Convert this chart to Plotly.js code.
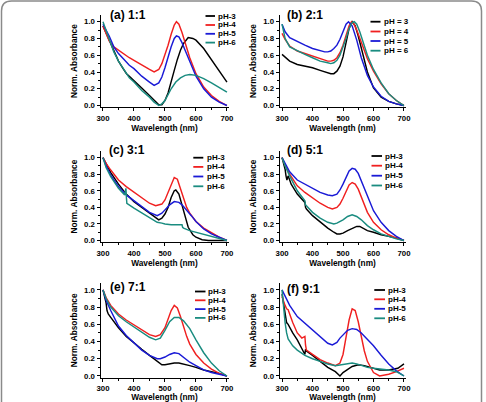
<!DOCTYPE html>
<html>
<head>
<meta charset="utf-8">
<script src="https://cdn.plot.ly/plotly-3.0.1.min.js"></script>
<style>html,body{margin:0;padding:0;background:#fff;}#plot{width:486px;height:402px;}</style>
</head>
<body>
<div id="plot"></div>
<script>
// ---------- DATA (wavelength in nm, normalized absorbance) ----------
// (a) 1:1
const aW3 = [300,310,320,335,350,365,372,376,385,400,425,450,470,480,490,500,510,520,530,540,550,560,575,590,600,625,650,675,700];
const aA3 = [0.95,0.87,0.78,0.65,0.53,0.44,0.40,0.38,0.35,0.30,0.21,0.12,0.04,0.01,0.01,0.06,0.15,0.27,0.42,0.55,0.66,0.74,0.81,0.80,0.78,0.68,0.55,0.41,0.28];
const aW4 = [300,310,320,335,350,365,375,385,400,425,450,465,480,490,500,510,520,530,537,545,555,565,580,600,625,650,675,700];
const aA4 = [0.95,0.86,0.77,0.70,0.66,0.63,0.60,0.57,0.54,0.48,0.43,0.40,0.43,0.50,0.60,0.72,0.85,0.96,1.0,0.97,0.87,0.74,0.57,0.38,0.22,0.12,0.05,0.0];
const aW5 = [300,310,320,335,350,365,372,376,385,400,425,450,465,480,490,500,510,520,530,537,545,555,565,580,600,625,650,675,700];
const aA5 = [0.97,0.90,0.83,0.70,0.62,0.56,0.53,0.51,0.48,0.44,0.35,0.28,0.24,0.27,0.34,0.45,0.58,0.70,0.80,0.83,0.82,0.75,0.66,0.52,0.35,0.20,0.10,0.04,0.0];
const aW6 = [300,310,320,335,350,365,375,385,400,425,450,465,480,490,500,510,520,535,550,565,580,600,625,650,675,700];
const aA6 = [1.0,0.89,0.78,0.64,0.53,0.44,0.38,0.33,0.28,0.18,0.10,0.04,0.0,0.02,0.06,0.13,0.20,0.28,0.33,0.36,0.37,0.36,0.32,0.27,0.22,0.16];
// (b) 2:1
const bW3 = [300,310,325,350,375,400,425,450,460,470,480,490,500,510,520,530,540,550,560,570,580,600,625,650,675,700];
const bA3 = [0.61,0.58,0.53,0.49,0.47,0.45,0.42,0.39,0.38,0.38,0.41,0.47,0.58,0.75,0.92,1.0,0.95,0.83,0.68,0.53,0.40,0.21,0.10,0.05,0.02,0.0];
const bW4 = [300,310,325,350,375,400,425,450,460,470,480,490,500,510,520,528,535,545,555,565,580,600,625,650,675,700];
const bA4 = [0.86,0.79,0.71,0.65,0.62,0.59,0.56,0.53,0.53,0.54,0.57,0.63,0.72,0.84,0.95,1.0,0.98,0.90,0.80,0.69,0.56,0.41,0.26,0.14,0.06,0.0];
const bW5 = [300,310,325,350,375,400,425,440,450,460,470,480,490,500,510,518,530,545,560,580,600,625,650,675,700];
const bA5 = [0.97,0.88,0.81,0.76,0.72,0.68,0.65,0.64,0.64,0.65,0.68,0.72,0.79,0.88,0.97,1.0,0.95,0.78,0.57,0.36,0.22,0.11,0.05,0.02,0.0];
const bW6 = [300,310,325,350,375,400,425,450,460,470,480,490,500,510,520,530,537,545,555,565,580,600,625,650,675,700];
const bA6 = [0.97,0.80,0.70,0.65,0.61,0.57,0.53,0.51,0.50,0.51,0.54,0.60,0.69,0.80,0.92,0.99,1.0,0.97,0.88,0.76,0.60,0.43,0.27,0.14,0.06,0.0];
// (c) 3:1
const cW3 = [300,310,325,350,375,400,425,450,470,480,490,500,510,520,530,535,545,555,565,575,590,600,620,640,670,700];
const cA3 = [1.0,0.93,0.82,0.68,0.56,0.47,0.40,0.33,0.27,0.25,0.27,0.32,0.40,0.52,0.60,0.61,0.56,0.43,0.28,0.16,0.07,0.04,0.01,0.0,0.0,0.0];
const cW4 = [300,310,325,350,375,400,425,450,470,490,500,510,520,530,540,550,560,570,580,600,625,650,675,700];
const cA4 = [1.0,0.93,0.85,0.73,0.65,0.58,0.51,0.45,0.42,0.44,0.49,0.58,0.69,0.76,0.74,0.63,0.50,0.40,0.33,0.23,0.15,0.09,0.04,0.0];
const cW5 = [300,310,325,350,375,400,425,450,475,490,500,515,530,545,555,570,585,600,625,650,675,700];
const cA5 = [1.0,0.90,0.79,0.65,0.55,0.48,0.40,0.34,0.30,0.33,0.37,0.43,0.47,0.46,0.43,0.37,0.30,0.23,0.14,0.08,0.04,0.0];
const cW6 = [300,310,325,350,370,374,376,377,400,425,450,475,490,500,520,540,555,557,560,580,600,625,650,675,700];
const cA6 = [1.0,0.88,0.77,0.63,0.55,0.63,0.50,0.45,0.39,0.33,0.27,0.22,0.21,0.20,0.19,0.19,0.19,0.16,0.15,0.12,0.10,0.07,0.05,0.02,0.0];
// (d) 5:1
const dW3 = [300,305,310,313,316,320,330,350,375,377,380,400,425,450,470,480,490,500,515,530,545,555,565,580,600,625,650,675,700];
const dA3 = [1.0,0.93,0.86,0.78,0.73,0.78,0.68,0.56,0.46,0.40,0.38,0.30,0.22,0.15,0.10,0.08,0.08,0.09,0.12,0.15,0.17,0.17,0.15,0.12,0.10,0.07,0.05,0.03,0.0];
const dW4 = [300,310,325,350,375,400,425,450,465,480,490,500,510,520,530,540,550,560,570,580,600,625,650,675,700];
const dA4 = [1.0,0.91,0.80,0.66,0.58,0.51,0.45,0.40,0.38,0.40,0.44,0.51,0.60,0.67,0.70,0.68,0.62,0.52,0.42,0.34,0.22,0.13,0.07,0.03,0.0];
const dW5 = [300,310,325,350,375,400,425,450,465,480,490,500,510,520,530,540,550,560,570,580,600,625,650,675,700];
const dA5 = [1.0,0.93,0.83,0.73,0.68,0.63,0.58,0.55,0.54,0.56,0.61,0.68,0.77,0.84,0.87,0.86,0.81,0.72,0.62,0.52,0.36,0.22,0.12,0.05,0.0];
const dW6 = [300,310,325,350,375,377,380,400,425,450,470,480,500,515,530,545,560,580,600,625,650,675,700];
const dA6 = [1.0,0.90,0.78,0.60,0.48,0.43,0.42,0.34,0.27,0.22,0.20,0.21,0.25,0.29,0.31,0.29,0.25,0.18,0.13,0.08,0.05,0.02,0.0];
// (e) 7:1
const eW3 = [300,305,310,313,317,325,350,375,400,425,450,475,490,500,515,530,545,560,580,600,625,650,675,700];
const eA3 = [1.0,0.93,0.85,0.76,0.72,0.68,0.56,0.46,0.38,0.31,0.24,0.17,0.13,0.13,0.14,0.15,0.15,0.14,0.12,0.10,0.07,0.05,0.03,0.0];
const eW4 = [300,310,325,350,375,400,425,450,470,485,500,510,520,530,540,550,560,570,580,600,625,650,675,700];
const eA4 = [1.0,0.91,0.82,0.72,0.65,0.59,0.53,0.48,0.46,0.48,0.56,0.65,0.76,0.82,0.79,0.69,0.57,0.46,0.37,0.25,0.15,0.08,0.03,0.0];
const eW5 = [300,310,325,350,375,400,425,450,475,485,500,515,530,545,560,580,600,625,650,675,700];
const eA5 = [1.0,0.88,0.76,0.58,0.47,0.38,0.30,0.24,0.20,0.20,0.22,0.25,0.27,0.26,0.22,0.16,0.12,0.07,0.04,0.02,0.0];
const eW6 = [300,310,325,350,375,400,425,450,470,485,500,515,530,545,560,580,600,625,650,675,700];
const eA6 = [1.0,0.90,0.80,0.70,0.63,0.57,0.51,0.45,0.42,0.44,0.53,0.63,0.68,0.68,0.64,0.55,0.42,0.27,0.15,0.06,0.0];
// (f) 9:1
const fW3 = [300,305,310,315,320,335,350,375,377,380,400,425,450,475,490,500,515,530,550,570,590,620,650,680,700];
const fA3 = [0.95,0.84,0.73,0.62,0.60,0.50,0.42,0.25,0.31,0.29,0.24,0.17,0.10,0.05,0.0,0.04,0.08,0.11,0.13,0.12,0.10,0.07,0.07,0.09,0.14];
const fW4 = [300,305,310,315,320,335,350,365,375,377,380,400,425,450,475,490,500,510,520,530,540,550,560,570,580,600,620,650,675,700];
const fA4 = [0.92,0.86,0.82,0.78,0.77,0.62,0.50,0.44,0.46,0.36,0.30,0.25,0.19,0.15,0.12,0.15,0.25,0.45,0.65,0.78,0.76,0.63,0.45,0.29,0.17,0.04,0.0,0.02,0.05,0.09];
const fW5 = [300,310,325,350,375,400,425,450,465,480,490,500,515,530,545,560,580,600,625,650,675,700];
const fA5 = [1.0,0.92,0.82,0.69,0.61,0.53,0.45,0.38,0.36,0.39,0.44,0.48,0.53,0.55,0.54,0.50,0.43,0.35,0.24,0.14,0.06,0.0];
const fW6 = [300,305,310,315,320,335,350,375,400,425,450,475,500,515,530,545,560,580,600,625,650,675,690,700];
const fA6 = [1.0,0.80,0.62,0.50,0.43,0.35,0.30,0.24,0.20,0.17,0.14,0.12,0.13,0.14,0.15,0.14,0.12,0.10,0.09,0.08,0.07,0.05,0.02,0.0];

const panelTitles = ['(a) 1:1','(b) 2:1','(c) 3:1','(d) 5:1','(e) 7:1','(f) 9:1'];
const labelsDash = ['pH-3','pH-4','pH-5','pH-6'];
const labelsEq = ['pH = 3','pH = 4','pH = 5','pH = 6'];
const xTitle = 'Wavelength (nm)';
const yTitle = 'Norm. Absorbance';
const xTicks = [300,400,500,600,700];
const yTicks = [0.0,0.2,0.4,0.6,0.8,1.0];

// ---------- STYLE / LAYOUT ----------
const W = 486, H = 402;
const colors = ['#000000','#f02020','#1a1ad6','#1a8c80'];
const FONT = 'Arial, "Liberation Sans", sans-serif';
const panels = [
  {ws:[aW3,aW4,aW5,aW6], as:[aA3,aA4,aA5,aA6], labels:labelsDash},
  {ws:[bW3,bW4,bW5,bW6], as:[bA3,bA4,bA5,bA6], labels:labelsEq},
  {ws:[cW3,cW4,cW5,cW6], as:[cA3,cA4,cA5,cA6], labels:labelsDash},
  {ws:[dW3,dW4,dW5,dW6], as:[dA3,dA4,dA5,dA6], labels:labelsDash},
  {ws:[eW3,eW4,eW5,eW6], as:[eA3,eA4,eA5,eA6], labels:labelsDash},
  {ws:[fW3,fW4,fW5,fW6], as:[fA3,fA4,fA5,fA6], labels:labelsDash}
];
// pixel layout
const xDom = [[100.5,228.5],[279.6,405.5]];
const yDom = [[15,107.2],[151,242.2],[283,377.7]];
const titlePos = [[108,15],[285,15],[107,150],[285,150],[108,287],[285,289]];
const legPos = [ // [lineX0, lineX1, textX, [row y's]]
  [205.5,215,217,[16,25,33.8,42.6]],
  [370.5,380.5,382.5,[21.7,31.5,41,50.7]],
  [193.3,203.3,205.5,[157.7,166.9,176.5,186.3]],
  [371.5,382,384,[156,165.7,175.7,185.5]],
  [195,205.5,207.3,[291.5,300.3,309.1,317.9]],
  [374.3,385,386.7,[290,299.3,308.8,318.3]]
];
const px = v => v / W;
const py = v => 1 - v / H;

const traces = [];
const layout = {
  width: W, height: H,
  margin: {l:0, r:0, t:0, b:0},
  paper_bgcolor: '#ffffff', plot_bgcolor: '#ffffff',
  showlegend: false,
  font: {family: FONT, color: '#000', size: 8},
  annotations: [], shapes: []
};

panels.forEach((p, i) => {
  const n = i + 1;
  const xa = 'x' + (n === 1 ? '' : n), ya = 'y' + (n === 1 ? '' : n);
  const xk = 'xaxis' + (n === 1 ? '' : n), yk = 'yaxis' + (n === 1 ? '' : n);
  const col = i % 2, row = Math.floor(i / 2);
  p.ws.forEach((w, k) => {
    traces.push({type:'scatter', mode:'lines', x:w, y:p.as[k], xaxis:xa, yaxis:ya,
      name:p.labels[k], line:{color:colors[k], width:1.45}, hoverinfo:'skip'});
  });
  layout[xk] = {
    domain:[px(xDom[col][0]), px(xDom[col][1])], anchor:ya, range:[292,705],
    showline:true, linecolor:'#000', linewidth:1, mirror:false,
    showgrid:false, zeroline:false, ticks:'outside', ticklen:3, tickwidth:1, tickcolor:'#000',
    tickvals:xTicks, ticktext:xTicks.map(String),
    minor:{tickvals:[350,450,550,650], ticks:'outside', ticklen:2, tickcolor:'#000', showgrid:false},
    tickfont:{family:FONT, size:7.8, weight:'bold', color:'#000'},
    title:{text:xTitle, font:{family:FONT, size:8.3, weight:'bold', color:'#000'}, standoff:3},
    automargin:false, fixedrange:true
  };
  layout[yk] = {
    domain:[py(yDom[row][1]), py(yDom[row][0])], anchor:xa, range:[-0.02,1.08],
    showline:true, linecolor:'#000', linewidth:1, mirror:false,
    showgrid:false, zeroline:false, ticks:'outside', ticklen:3, tickwidth:1, tickcolor:'#000',
    tickvals:yTicks, ticktext:yTicks.map(v => v.toFixed(1)),
    minor:{tickvals:[0.1,0.3,0.5,0.7,0.9], ticks:'outside', ticklen:2, tickcolor:'#000', showgrid:false},
    tickfont:{family:FONT, size:7.8, weight:'bold', color:'#000'},
    title:{text:yTitle, font:{family:FONT, size:8.3, weight:'bold', color:'#000'}, standoff:5},
    automargin:false, fixedrange:true
  };
  layout.annotations.push({
    xref:'paper', yref:'paper', x:px(titlePos[i][0]), y:py(titlePos[i][1]),
    xanchor:'left', yanchor:'middle', showarrow:false, text:panelTitles[i],
    font:{family:FONT, size:12, weight:'bold', color:'#000'}
  });
  const L = legPos[i];
  p.labels.forEach((lab, k) => {
    layout.shapes.push({type:'line', xref:'paper', yref:'paper',
      x0:px(L[0]), x1:px(L[1]), y0:py(L[3][k]), y1:py(L[3][k]),
      line:{color:colors[k], width:1.8}});
    layout.annotations.push({xref:'paper', yref:'paper', x:px(L[2]), y:py(L[3][k]),
      xanchor:'left', yanchor:'middle', showarrow:false, text:lab, borderpad:0,
      font:{family:FONT, size:8, weight:'bold', color:'#000'}});
  });
});

// rounded outer frame (open at the bottom)
const fx0 = px(1.5), fx1 = px(481.5), fyT = py(1), rx = 10 / W, ry = 10 / H;
layout.shapes.push({type:'path', xref:'paper', yref:'paper',
  path:`M ${fx0} -0.05 L ${fx0} ${fyT-ry} Q ${fx0} ${fyT} ${fx0+rx} ${fyT} L ${fx1-rx} ${fyT} Q ${fx1} ${fyT} ${fx1} ${fyT-ry} L ${fx1} -0.05`,
  line:{color:'#8a8a8a', width:1.5}});

Plotly.newPlot('plot', traces, layout, {displayModeBar:false, staticPlot:true});
</script>
</body>
</html>
